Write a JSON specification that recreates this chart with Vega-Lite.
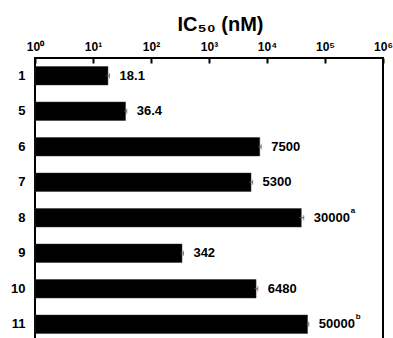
{
  "$schema": "https://vega.github.io/schema/vega-lite/v6.json",
  "width": 348,
  "height": 284,
  "autosize": {"type": "none"},
  "padding": {"left": 35, "top": 58, "right": 10, "bottom": 0},
  "background": "white",
  "config": {
    "view": {"stroke": "black", "strokeWidth": 2},
    "font": "Liberation Sans"
  },
  "data": {
    "values": [
      {"cmp": "1", "ic50": 18.1, "lo": 16.9, "hi": 19.3, "label": "18.1", "sup": ""},
      {"cmp": "5", "ic50": 36.4, "lo": 34.6, "hi": 38.2, "label": "36.4", "sup": ""},
      {"cmp": "6", "ic50": 7500, "lo": 7050, "hi": 7950, "label": "7500", "sup": ""},
      {"cmp": "7", "ic50": 5300, "lo": 4950, "hi": 5650, "label": "5300", "sup": ""},
      {"cmp": "8", "ic50": 39000, "lo": 36000, "hi": 43000, "label": "30000", "sup": "a"},
      {"cmp": "9", "ic50": 342, "lo": 322, "hi": 362, "label": "342", "sup": ""},
      {"cmp": "10", "ic50": 6480, "lo": 6050, "hi": 6950, "label": "6480", "sup": ""},
      {"cmp": "11", "ic50": 50000, "lo": 47500, "hi": 52500, "label": "50000", "sup": "b"}
    ]
  },
  "encoding": {
    "y": {
      "field": "cmp",
      "type": "nominal",
      "sort": null,
      "scale": {"paddingInner": 0.48, "paddingOuter": 0.24},
      "axis": {
        "title": null,
        "domain": false,
        "ticks": false,
        "labelFontSize": 13,
        "labelFontWeight": "bold",
        "labelColor": "black",
        "labelPadding": 10
      }
    }
  },
  "layer": [
    {
      "mark": {"type": "bar", "color": "black", "stroke": "#333", "strokeWidth": 0.5},
      "encoding": {
        "x": {
          "field": "ic50",
          "type": "quantitative",
          "scale": {"type": "log", "domain": [1, 1000000], "nice": false},
          "axis": {
            "orient": "top",
            "offset": -5,
            "values": [1, 10, 100, 1000, 10000, 100000, 1000000],
            "labelExpr": "'10' + ['⁰','¹','²','³','⁴','⁵','⁶'][round(log(datum.value)/LN10)]",
            "domain": false,
            "grid": false,
            "tickSize": 5,
            "tickWidth": 2,
            "tickColor": "black",
            "labelFontSize": 12,
            "labelFontWeight": "bold",
            "labelColor": "black",
            "labelPadding": 5,
            "labelFlush": false,
            "title": "IC₅₀ (nM)",
            "titleFontSize": 20,
            "titleFontWeight": "bold",
            "titleColor": "black",
            "titlePadding": 6,
            "titleX": 185
          }
        },
        "x2": {"datum": 1}
      }
    },
    {
      "mark": {"type": "rule", "color": "#555", "strokeWidth": 1},
      "encoding": {
        "x": {"field": "lo", "type": "quantitative"},
        "x2": {"field": "hi"}
      }
    },
    {
      "mark": {"type": "tick", "orient": "vertical", "color": "#555", "thickness": 1, "size": 5},
      "encoding": {
        "x": {"field": "hi", "type": "quantitative"}
      }
    },
    {
      "mark": {"type": "text", "align": "left", "baseline": "middle", "dx": 10, "fontSize": 13, "fontWeight": "bold", "color": "black"},
      "encoding": {
        "x": {"field": "hi", "type": "quantitative"},
        "text": {"field": "label"}
      }
    },
    {
      "mark": {"type": "text", "align": "left", "baseline": "middle", "dx": 47, "dy": -7, "fontSize": 8, "fontWeight": "bold", "color": "black"},
      "encoding": {
        "x": {"field": "hi", "type": "quantitative"},
        "text": {"field": "sup"}
      }
    }
  ]
}
